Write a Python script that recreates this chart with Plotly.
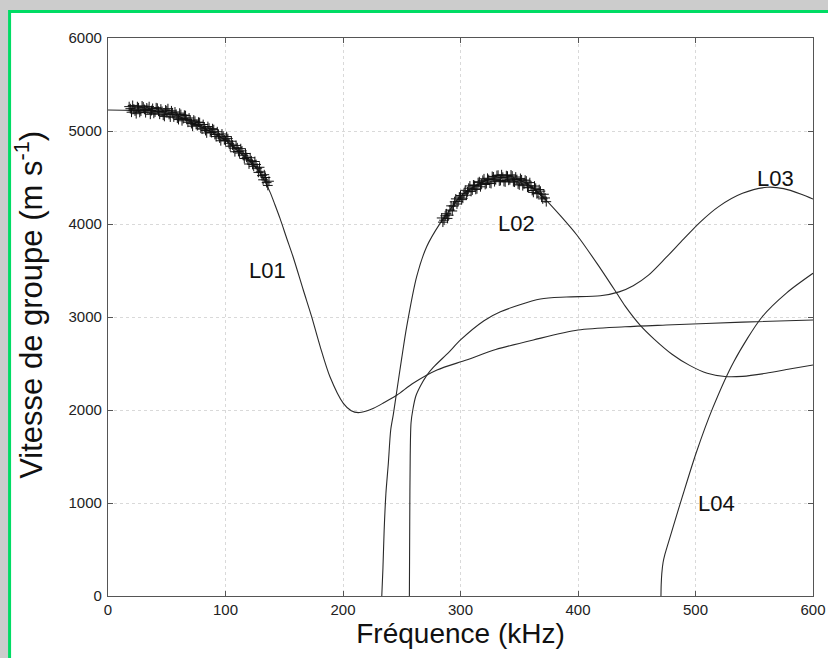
import plotly.graph_objects as go

# ---------------- data ----------------
L01_f = [0, 20, 37, 50, 60, 73, 80, 90, 100, 110, 120, 127, 133, 138, 142, 146.4, 152, 157.7, 166.2, 173.3, 180.4, 188.9, 200.3, 207, 213, 220, 226, 235, 246, 260, 280, 305, 330, 362, 400, 440, 475, 540, 600]
L01_v = [5225, 5222, 5215, 5190, 5160, 5080, 5040, 4975, 4900, 4790, 4680, 4590, 4470, 4340, 4210, 4060, 3850, 3640, 3290, 3004, 2690, 2358, 2072, 1993, 1972, 1990, 2018, 2080, 2161, 2290, 2430, 2538, 2650, 2753, 2860, 2895, 2914, 2945, 2968]

L02_f = [233, 234, 235, 236.5, 238.6, 240.6, 242.8, 245.5, 250, 254.2, 262.7, 271.2, 282.6, 290, 299.6, 310, 325, 336, 350, 362, 373, 385, 399, 417, 433, 440, 453, 465, 480, 495, 510, 525, 540, 560, 580, 600]
L02_v = [0, 300, 700, 1100, 1430, 1785, 1950, 2180, 2560, 2896, 3434, 3756, 4007, 4135, 4294, 4390, 4480, 4500, 4470, 4385, 4255, 4090, 3882, 3560, 3255, 3120, 2910, 2760, 2600, 2480, 2395, 2360, 2362, 2395, 2440, 2484]

L03_f = [256.5, 256.8, 257.2, 257.9, 259.5, 262, 266, 271, 277, 290, 300, 320, 334, 368, 390, 419, 435, 447, 460, 475, 490, 504, 520, 540, 561, 575, 590, 600]
L03_v = [0, 800, 1500, 1860, 2008, 2150, 2260, 2367, 2460, 2620, 2753, 2960, 3057, 3193, 3215, 3228, 3270, 3336, 3450, 3640, 3840, 4021, 4190, 4330, 4395, 4380, 4320, 4269]

L04_f = [470.6, 470.8, 471.3, 472.4, 474.0, 476.6, 481.6, 488.6, 500.6, 514.6, 532.6, 556.6, 577.6, 600]
L04_v = [0, 120, 240, 360, 450, 560, 770, 1060, 1540, 2020, 2520, 3000, 3260, 3470]

# experimental group velocities (+ markers)
exp1_f = [18, 19, 20, 21, 22, 23, 24, 25, 26, 27, 28, 29, 30, 31, 32, 33, 34, 35, 36, 37, 38, 39,
          40, 41, 42, 43, 44, 45, 46, 47, 48, 49, 50, 51, 52, 53, 54, 55, 56, 57, 58, 59,
          60, 61, 62, 63, 64, 65, 66, 67, 68, 69, 70, 71, 72, 73, 74, 75, 76, 77, 78, 79,
          80, 81, 82, 83, 84, 85, 86, 87, 88, 89, 90, 91, 92, 93, 94, 95, 96, 97, 98, 99,
          100, 101, 102, 103, 104, 105, 106, 107, 108, 109, 110, 111, 112, 113, 114, 115, 116, 117, 118, 119,
          120, 121, 122, 123, 124, 125, 126, 127, 128, 129, 130, 131, 132, 133, 134, 135, 136, 137]
exp1_v = [5262, 5240, 5202, 5275, 5236, 5215, 5186, 5262, 5250, 5200, 5214, 5270, 5258, 5232, 5197, 5248,
          5231, 5262, 5180, 5220, 5243, 5190, 5204, 5250, 5245, 5212, 5180, 5236, 5211, 5170, 5157, 5226,
          5218, 5240, 5178, 5150, 5217, 5196, 5151, 5205, 5180, 5138, 5123, 5192, 5178, 5110, 5133, 5170,
          5166, 5125, 5094, 5140, 5115, 5080, 5052, 5118, 5105, 5070, 5058, 5095, 5091, 5030, 5020, 5070,
          5042, 5005, 4979, 5048, 5031, 4990, 4983, 5025, 5015, 4962, 4940, 4992, 4960, 4925, 4895, 4968,
          4945, 4905, 4895, 4940, 4918, 4868, 4836, 4890, 4849, 4815, 4777, 4845, 4820, 4780, 4763, 4810,
          4786, 4740, 4704, 4758, 4717, 4690, 4645, 4712, 4680, 4640, 4620, 4672, 4640, 4600, 4555, 4610,
          4560, 4520, 4475, 4530, 4500, 4445, 4415, 4460, 4430, 4385]

exp2_f = [284, 285, 286, 287, 288, 289, 290, 291, 292, 293, 294, 295, 296, 297, 298, 299, 300, 301, 302,
          303, 304, 305, 306, 307, 308, 309, 310, 311, 312, 313, 314, 315, 316, 317, 318, 319, 320, 321,
          322, 323, 324, 325, 326, 327, 328, 329, 330, 331, 332, 333, 334, 335, 336, 337, 338, 339, 340,
          341, 342, 343, 344, 345, 346, 347, 348, 349, 350, 351, 352, 353, 354, 355, 356, 357, 358, 359,
          360, 361, 362, 363, 364, 365, 366, 367, 368, 369, 370, 371, 372, 373]
exp2_v = [4065, 4020, 4041, 4088, 4110, 4060, 4095, 4150, 4195, 4140, 4193, 4238, 4270, 4215, 4243, 4290,
          4306, 4262, 4277, 4330, 4362, 4310, 4346, 4385, 4409, 4350, 4365, 4420, 4414, 4372, 4378, 4445,
          4455, 4400, 4431, 4470, 4486, 4425, 4435, 4492, 4478, 4440, 4435, 4512, 4506, 4455, 4476, 4522,
          4525, 4462, 4467, 4530, 4503, 4458, 4452, 4520, 4515, 4470, 4476, 4528, 4516, 4455, 4450, 4505,
          4478, 4430, 4420, 4490, 4475, 4412, 4429, 4472, 4462, 4395, 4389, 4445, 4410, 4360, 4340, 4408,
          4385, 4325, 4330, 4370, 4353, 4290, 4270, 4320, 4280, 4240]

mode_labels = ["L01", "L02", "L03", "L04"]
label_f = [136, 348, 568.5, 518]
label_v = [3500, 4010, 4490, 1000]

x_ticks = [0, 100, 200, 300, 400, 500, 600]
y_ticks = [0, 1000, 2000, 3000, 4000, 5000, 6000]

FONT = "Liberation Sans, Arial, sans-serif"

# ---------------- figure ----------------
fig = go.Figure()
line_style = dict(color="#2a2a2a", width=1.1, shape="spline", smoothing=0.8)
for fx, vy in [(L01_f, L01_v), (L02_f, L02_v), (L03_f, L03_v), (L04_f, L04_v)]:
    fig.add_trace(go.Scatter(x=fx, y=vy, mode="lines", line=line_style,
                             hoverinfo="skip", showlegend=False))

marker_style = dict(symbol="cross-thin", size=7, color="#111111",
                    line=dict(color="#111111", width=1))
for fx, vy in [(exp1_f, exp1_v), (exp2_f, exp2_v)]:
    fig.add_trace(go.Scatter(x=fx, y=vy, mode="markers", marker=marker_style,
                             showlegend=False))

for t, fx, vy in zip(mode_labels, label_f, label_v):
    fig.add_annotation(x=fx, y=vy, text=t, showarrow=False,
                       font=dict(family=FONT, size=22, color="#111111"))

# y-axis title placed as a rotated annotation (matches reference position)
fig.add_annotation(xref="paper", yref="paper", x=-0.112, y=0.522,
                   xanchor="center", yanchor="middle", textangle=-90, showarrow=False,
                   text="Vitesse de groupe (m s<sup>-1</sup>)",
                   font=dict(family=FONT, size=31, color="#111111"))

# background frame: gray page, green border, white panel
fig.add_shape(type="rect", xref="paper", yref="paper",
              x0=-0.1396, x1=1.1, y0=-0.2, y1=1.0475,
              fillcolor="white", line=dict(color="#00dc64", width=3), layer="below")

axis_common = dict(showline=True, linecolor="#555555", linewidth=1.2, mirror="ticks",
                   ticks="inside", ticklen=5, tickcolor="#555555", automargin=False,
                   showgrid=True, gridcolor="#d9d9d9", griddash="dot", gridwidth=1,
                   zeroline=False,
                   tickfont=dict(family=FONT, size=15, color="#222222"))

fig.update_xaxes(range=[0, 600], tickvals=x_ticks, **axis_common,
                 title=dict(text="Fréquence (kHz)", standoff=4,
                            font=dict(family=FONT, size=28, color="#111111")))
fig.update_yaxes(range=[0, 6000], tickvals=y_ticks, **axis_common, ticklabelstandoff=2)

fig.update_layout(width=828, height=658,
                  margin=dict(l=108, r=15, t=38, b=62),
                  paper_bgcolor="#cccccc", plot_bgcolor="white",
                  showlegend=False)

fig.write_html("out.html")
